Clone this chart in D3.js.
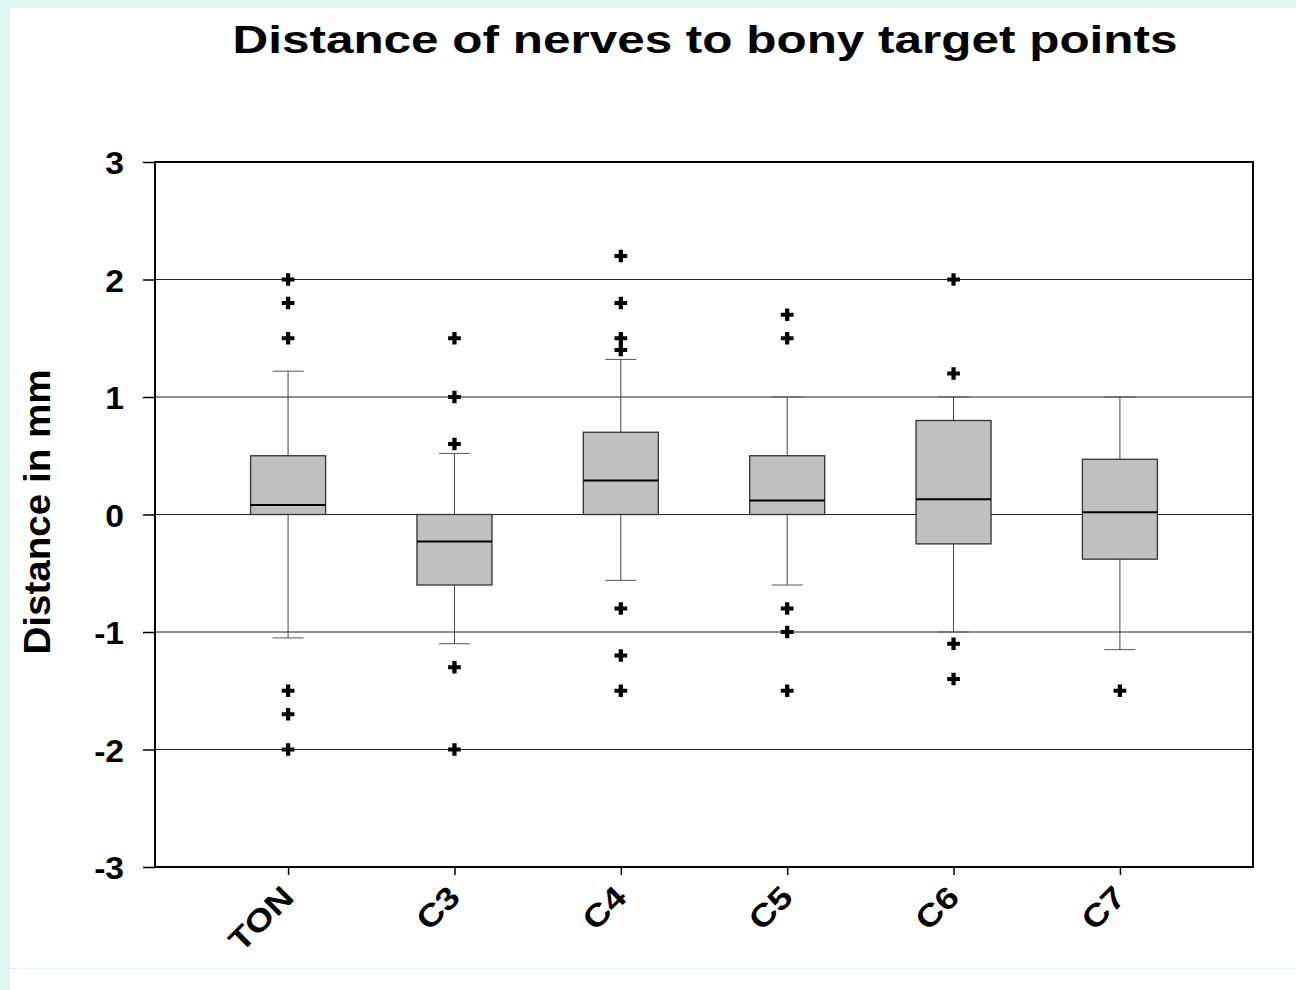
<!DOCTYPE html>
<html>
<head>
<meta charset="utf-8">
<style>
    body { margin: 0; background: #dff5f1; }
    svg { display: block; }
    text { font-family: Arial, "Liberation Sans", sans-serif; font-weight: bold; }
</style>
</head>
<body>
<svg></svg>
<script src="https://cdn.jsdelivr.net/npm/d3@7"></script>
<script>
    // values
    let categories = ["TON", "C3", "C4", "C5", "C6", "C7"];
    let q1 =        [0,     -0.6,  0,    0,    -0.25, -0.38];
    let medians =   [0.08,  -0.23, 0.29, 0.12, 0.13,  0.02];
    let q3 =        [0.5,   0,     0.7,  0.5,  0.8,   0.47];
    let whiskLow =  [-1.05, -1.1,  -0.56, -0.6, -1.0, -1.15];
    let whiskHigh = [1.22,  0.52,  1.32, 1.0,  1.0,   1.0];
    let outliers = [
        [2, 1.8, 1.5, -1.5, -1.7, -2],
        [1.5, 1.0, 0.6, -1.3, -2],
        [2.2, 1.8, 1.5, 1.4, -0.8, -1.2, -1.5],
        [1.7, 1.5, -0.8, -1.0, -1.5],
        [2.0, 1.2, -1.1, -1.4],
        [-1.5]
    ];
    let yTicks = [-3, -2, -1, 0, 1, 2, 3];
    let gridValues = [-2, -1, 0, 1, 2];

    let width = 1296,
        height = 990;

    let svg = d3.select("svg")
        .attr("width", width)
        .attr("height", height);

    // white page panel
    svg.append("rect").attr("x", 10).attr("y", 8).attr("width", width - 10).attr("height", 960).attr("fill", "white");
    svg.append("rect").attr("x", 10).attr("y", 969).attr("width", width - 10).attr("height", 21).attr("fill", "white");

    let plotLeft = 155, plotRight = 1253, plotTop = 162, plotBottom = 867;

    let x = d3.scalePoint().domain(categories).range([plotLeft, plotRight]).padding(0.8);
    let y = d3.scaleLinear().domain([-3, 3]).range([plotBottom, plotTop]);

    let boxW = 75, capW = 31;

    // the original lettering is wider than Arial, so stretch along the baseline
    function stretch(sel, k) {
        sel.each(function () {
            let w = this.getComputedTextLength();
            d3.select(this).attr("textLength", w * k).attr("lengthAdjust", "spacingAndGlyphs");
        });
    }

    // grid lines
    svg.append("g").selectAll("line")
        .data(gridValues)
        .enter().append("line")
        .attr("x1", plotLeft).attr("x2", plotRight)
        .attr("y1", function (d) {return y(d);})
        .attr("y2", function (d) {return y(d);})
        .attr("stroke", "#222")
        .attr("stroke-width", 1);

    let data = categories.map(function (c, i) {
        return {cat: c, q1: q1[i], med: medians[i], q3: q3[i], lo: whiskLow[i], hi: whiskHigh[i], out: outliers[i]};
    });

    let boxes = svg.append("g").selectAll(".box")
        .data(data)
        .enter().append("g")
        .attr("class", "box");

    // whiskers
    boxes.append("line")
        .attr("x1", function (d) {return x(d.cat);})
        .attr("x2", function (d) {return x(d.cat);})
        .attr("y1", function (d) {return y(d.hi);})
        .attr("y2", function (d) {return y(d.q3);})
        .attr("stroke", "#444").attr("stroke-width", 1);
    boxes.append("line")
        .attr("x1", function (d) {return x(d.cat);})
        .attr("x2", function (d) {return x(d.cat);})
        .attr("y1", function (d) {return y(d.q1);})
        .attr("y2", function (d) {return y(d.lo);})
        .attr("stroke", "#444").attr("stroke-width", 1);
    // caps
    boxes.append("line")
        .attr("x1", function (d) {return x(d.cat) - capW / 2;})
        .attr("x2", function (d) {return x(d.cat) + capW / 2;})
        .attr("y1", function (d) {return y(d.hi);})
        .attr("y2", function (d) {return y(d.hi);})
        .attr("stroke", "#555").attr("stroke-width", 1);
    boxes.append("line")
        .attr("x1", function (d) {return x(d.cat) - capW / 2;})
        .attr("x2", function (d) {return x(d.cat) + capW / 2;})
        .attr("y1", function (d) {return y(d.lo);})
        .attr("y2", function (d) {return y(d.lo);})
        .attr("stroke", "#555").attr("stroke-width", 1);

    // box
    boxes.append("rect")
        .attr("x", function (d) {return x(d.cat) - boxW / 2;})
        .attr("width", boxW)
        .attr("y", function (d) {return y(d.q3);})
        .attr("height", function (d) {return y(d.q1) - y(d.q3);})
        .attr("fill", "#c0c0c0")
        .attr("stroke", "#333")
        .attr("stroke-width", 1.3);

    // median
    boxes.append("line")
        .attr("x1", function (d) {return x(d.cat) - boxW / 2;})
        .attr("x2", function (d) {return x(d.cat) + boxW / 2;})
        .attr("y1", function (d) {return y(d.med);})
        .attr("y2", function (d) {return y(d.med);})
        .attr("stroke", "black").attr("stroke-width", 2);

    // outliers
    let cross = d3.symbol().type(d3.symbolCross).size(90);
    boxes.selectAll(".out")
        .data(function (d) {return d.out.map(function (v) {return {cat: d.cat, v: v};});})
        .enter().append("path")
        .attr("class", "out")
        .attr("d", cross)
        .attr("transform", function (d) {return "translate(" + x(d.cat) + "," + y(d.v) + ")";})
        .attr("fill", "black");

    // frame
    svg.append("rect")
        .attr("x", plotLeft).attr("y", plotTop)
        .attr("width", plotRight - plotLeft).attr("height", plotBottom - plotTop)
        .attr("fill", "none").attr("stroke", "black").attr("stroke-width", 2);

    // y axis
    let yAxis = svg.append("g")
        .attr("transform", "translate(" + plotLeft + ",0)")
        .call(d3.axisLeft(y).tickValues(yTicks).tickFormat(function (d) {return String(d);}).tickSize(12).tickPadding(19));
    yAxis.select(".domain").remove();
    yAxis.selectAll(".tick line").attr("stroke", "black").attr("stroke-width", 1.5);
    yAxis.selectAll(".tick text")
        .style("font-size", "32px").style("font-weight", "bold").style("font-family", "Arial")
        .attr("fill", "black").attr("dy", "0.36em")
        .call(stretch, 1.05);

    // x axis
    let xAxis = svg.append("g")
        .attr("transform", "translate(0," + plotBottom + ")")
        .call(d3.axisBottom(x).tickSize(8).tickPadding(10));
    xAxis.select(".domain").remove();
    xAxis.selectAll(".tick line").attr("stroke", "black").attr("stroke-width", 1.5);
    xAxis.selectAll(".tick text")
        .style("font-size", "31px").style("font-weight", "bold").style("font-family", "Arial")
        .attr("fill", "black")
        .attr("text-anchor", "end")
        .attr("y", 0)
        .attr("dy", 0)
        .attr("transform", "translate(7,32) rotate(-45)")
        .call(stretch, 1.18);

    // title
    svg.append("text")
        .attr("x", 705).attr("y", 53)
        .attr("text-anchor", "middle")
        .style("font-size", "39px")
        .attr("textLength", 945)
        .attr("lengthAdjust", "spacingAndGlyphs")
        .text("Distance of nerves to bony target points");

    // y label
    svg.append("text")
        .attr("transform", "translate(50,512) rotate(-90)")
        .attr("text-anchor", "middle")
        .style("font-size", "37px")
        .attr("textLength", 285)
        .attr("lengthAdjust", "spacingAndGlyphs")
        .text("Distance in mm");
</script>
</body>
</html>
